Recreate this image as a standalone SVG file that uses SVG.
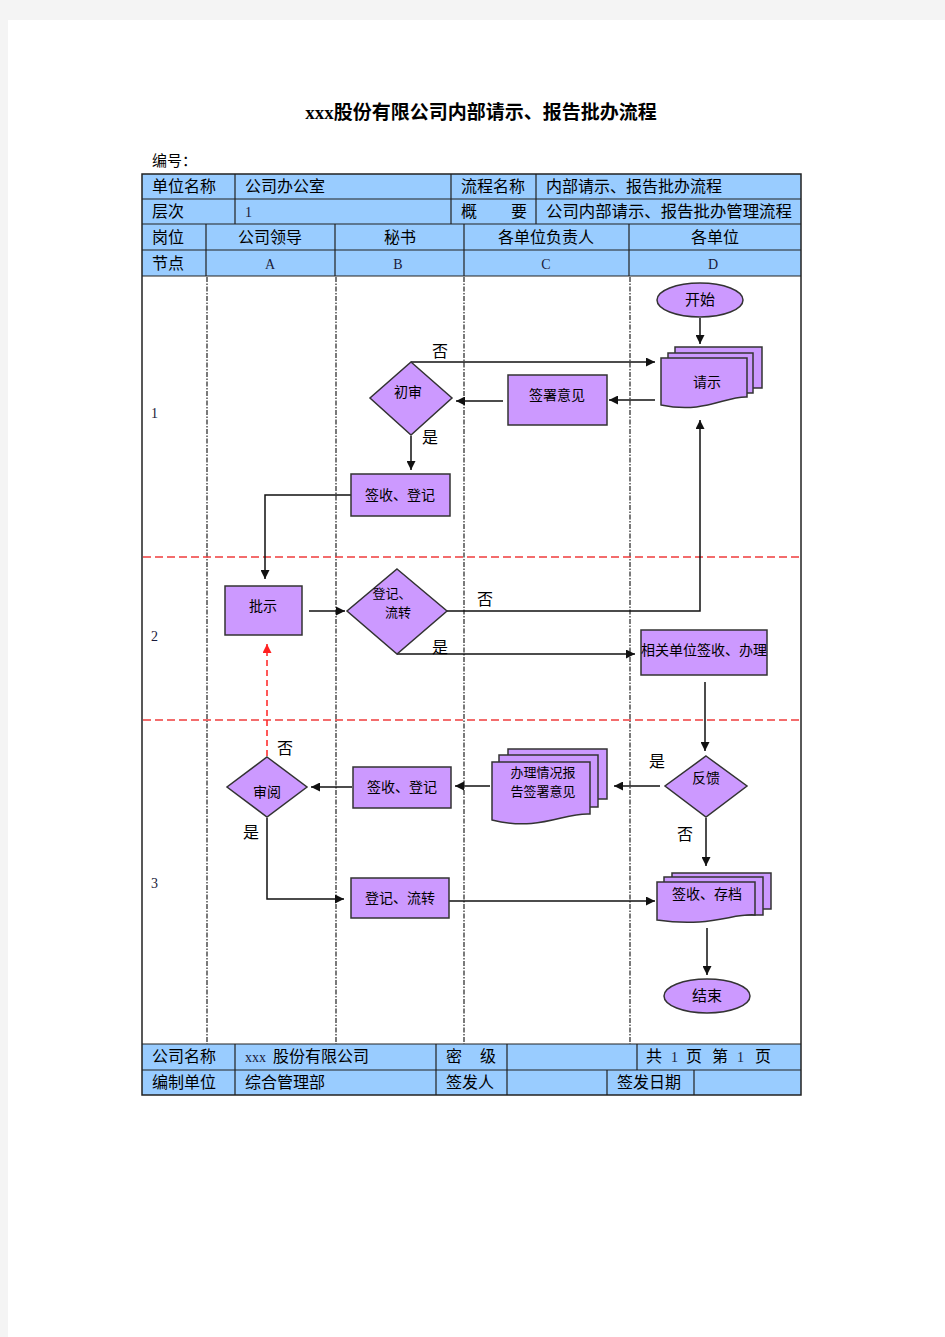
<svg xmlns="http://www.w3.org/2000/svg" width="945" height="1337" viewBox="0 0 945 1337">
<style>
.t{font-family:"Noto Sans CJK SC","Noto Sans",sans-serif;font-size:16px;fill:#000}
.m{text-anchor:middle}
.n{font-family:"Noto Sans CJK SC","Noto Sans",sans-serif;font-size:14px;fill:#000;text-anchor:middle}
.s{font-family:"Liberation Serif","Noto Sans CJK SC",serif;font-size:14px;fill:#1a1a3a}
.node{fill:#cc99ff;stroke:#333;stroke-width:1.5}
.c{stroke:#111;stroke-width:1.5;fill:none;marker-end:url(#a)}
.lane{stroke:#333;stroke-width:1.3;stroke-dasharray:5 1.5 1.5 1.5}
.red{stroke:#f03c3c;stroke-width:1.3;stroke-dasharray:8 4}
.g{stroke:#222;stroke-width:1.2;fill:none}
</style>
<defs>
<marker id="a" viewBox="0 0 10 10" refX="10" refY="5" markerWidth="9" markerHeight="9" markerUnits="userSpaceOnUse" orient="auto"><path d="M0,0 L10,5 L0,10 z" fill="#111"/></marker>
<marker id="r" viewBox="0 0 10 10" refX="10" refY="5" markerWidth="9" markerHeight="9" markerUnits="userSpaceOnUse" orient="auto"><path d="M0,0 L10,5 L0,10 z" fill="#ff2020"/></marker>
</defs>
<rect width="945" height="1337" fill="#f4f4f4"/>
<rect x="8" y="20" width="937" height="1317" fill="#fff"/>

<text x="481" y="119" class="t m" style="font-size:19px;font-weight:bold"><tspan style="font-family:'Liberation Serif',serif">xxx</tspan>股份有限公司内部请示、报告批办流程</text>
<text x="152" y="166" class="t" style="font-size:15px">编号：</text>

<g id="table">
<rect x="142" y="174" width="659" height="102" fill="#99ccff"/>
<rect x="142" y="1044" width="659" height="51" fill="#99ccff"/>
<rect x="142" y="174" width="659" height="921" class="g" style="stroke-width:1.5"/>
<path class="g" d="M142,199H801M142,224H801M142,250H801M142,276H801M142,1044H801M142,1070H801"/>
<path class="g" d="M235,174V224M451,174V224M536,174V224M206,224V276M335,224V276M464,224V276M629,224V276"/>
<path class="g" d="M235,1044V1095M436,1044V1095M507,1044V1095M637,1044V1070M607,1070V1095M694,1070V1095"/>
<text x="152" y="192" class="t">单位名称</text>
<text x="245" y="192" class="t">公司办公室</text>
<text x="461" y="192" class="t">流程名称</text>
<text x="546" y="192" class="t">内部请示、报告批办流程</text>
<text x="152" y="217" class="t">层次</text>
<text x="245" y="217" class="s">1</text>
<text x="461" y="217" class="t">概</text>
<text x="511" y="217" class="t">要</text>
<text x="546" y="217" class="t" style="font-size:16.4px">公司内部请示、报告批办管理流程</text>
<text x="152" y="243" class="t">岗位</text>
<text x="270" y="243" class="t m">公司领导</text>
<text x="400" y="243" class="t m">秘书</text>
<text x="546" y="243" class="t m">各单位负责人</text>
<text x="715" y="243" class="t m">各单位</text>
<text x="152" y="269" class="t">节点</text>
<text x="270" y="269" class="s m">A</text>
<text x="398" y="269" class="s m">B</text>
<text x="546" y="269" class="s m">C</text>
<text x="713" y="269" class="s m">D</text>
<text x="152" y="1062" class="t">公司名称</text>
<text x="245" y="1062" class="s">xxx</text>
<text x="273" y="1062" class="t">股份有限公司</text>
<text x="446" y="1062" class="t">密</text>
<text x="480" y="1062" class="t">级</text>
<text x="646" y="1062" class="t">共</text>
<text x="671" y="1062" class="s">1</text>
<text x="686" y="1062" class="t">页</text>
<text x="712" y="1062" class="t">第</text>
<text x="737" y="1062" class="s">1</text>
<text x="755" y="1062" class="t">页</text>
<text x="152" y="1088" class="t">编制单位</text>
<text x="245" y="1088" class="t">综合管理部</text>
<text x="446" y="1088" class="t">签发人</text>
<text x="617" y="1088" class="t">签发日期</text>
</g>

<g id="lanes">
<path class="lane" d="M207,277V1044M336,277V1044M464,277V1044M630,277V1044"/>
<path class="red" d="M143,557H801M143,720H801"/>
<text x="151" y="418" class="s">1</text>
<text x="151" y="641" class="s">2</text>
<text x="151" y="888" class="s">3</text>
</g>

<g id="connectors">
<path class="c" d="M700,318V344"/>
<path class="c" d="M411,362H655"/>
<path class="c" d="M655,400H609"/>
<path class="c" d="M503,401H456"/>
<path class="c" d="M411,436V470"/>
<path class="c" d="M351,495H265V579"/>
<path class="c" d="M447,611H700V420"/>
<path class="c" d="M309,611H345"/>
<path class="c" d="M397,654H635"/>
<path class="c" d="M705,682V751"/>
<path d="M267,756V644" fill="none" stroke="#ff2020" stroke-width="1.5" stroke-dasharray="6 4" marker-end="url(#r)"/>
<path class="c" d="M660,786H614"/>
<path class="c" d="M706,818V866"/>
<path class="c" d="M490,786H455"/>
<path class="c" d="M352,787H311"/>
<path class="c" d="M267,818V899H344"/>
<path class="c" d="M449,901H655"/>
<path class="c" d="M707,928V975"/>
<text x="440" y="357" class="t m">否</text>
<text x="430" y="443" class="t m">是</text>
<text x="485" y="605" class="t m">否</text>
<text x="440" y="653" class="t m">是</text>
<text x="657" y="767" class="t m">是</text>
<text x="685" y="840" class="t m">否</text>
<text x="285" y="754" class="t m">否</text>
<text x="251" y="838" class="t m">是</text>
</g>

<g id="start"><ellipse class="node" cx="700" cy="300" rx="43" ry="17"/><text x="700" y="305" class="n" style="font-size:15px">开始</text></g>

<g id="qingshi">
<rect class="node" x="675" y="347" width="87" height="41"/>
<rect class="node" x="668" y="353" width="85" height="40"/>
<path class="node" d="M661,358H747V397C725,396 705,414 661,405Z"/>
<text x="707" y="387" class="n">请示</text>
</g>

<g id="qianshu"><rect class="node" x="508" y="375" width="99" height="50"/><text x="557" y="400" class="n">签署意见</text></g>

<g id="chushen"><path class="node" d="M411,362L452,398L411,435L370,398Z"/><text x="408" y="397" class="n">初审</text></g>

<g id="qsdj1"><rect class="node" x="351" y="474" width="99" height="42"/><text x="400" y="500" class="n">签收、登记</text></g>

<g id="pishi"><rect class="node" x="225" y="586" width="77" height="49"/><text x="263" y="611" class="n">批示</text></g>

<g id="djlz1"><path class="node" d="M397,569L447,611L397,654L347,611Z"/><text x="392" y="598" class="n" style="font-size:13px">登记、</text><text x="398" y="617" class="n" style="font-size:13px">流转</text></g>

<g id="xiangguan"><rect class="node" x="641" y="630" width="126" height="45"/><text x="704" y="655" class="n">相关单位签收、办理</text></g>

<g id="fankui"><path class="node" d="M706,756L747,786L706,817L665,786Z"/><text x="706" y="783" class="n">反馈</text></g>

<g id="banli">
<rect class="node" x="508" y="749" width="99" height="50"/>
<rect class="node" x="499" y="755" width="99" height="52"/>
<path class="node" d="M492,762H590V814C565,812 540,832 492,820Z"/>
<text x="543" y="777" class="n" style="font-size:13px">办理情况报</text>
<text x="543" y="796" class="n" style="font-size:13px">告签署意见</text>
</g>

<g id="qsdj2"><rect class="node" x="353" y="767" width="98" height="41"/><text x="402" y="792" class="n">签收、登记</text></g>

<g id="shenyue"><path class="node" d="M267,757L307,787L267,817L227,787Z"/><text x="267" y="797" class="n">审阅</text></g>

<g id="djlz2"><rect class="node" x="351" y="878" width="98" height="40"/><text x="400" y="903" class="n">登记、流转</text></g>

<g id="qscd">
<rect class="node" x="672" y="873" width="99" height="36"/>
<rect class="node" x="664" y="877" width="99" height="38"/>
<path class="node" d="M657,882H755V915C733,913 710,928 657,920Z"/>
<text x="707" y="899" class="n">签收、存档</text>
</g>

<g id="end"><ellipse class="node" cx="707" cy="996" rx="43" ry="17"/><text x="707" y="1001" class="n" style="font-size:15px">结束</text></g>
</svg>
